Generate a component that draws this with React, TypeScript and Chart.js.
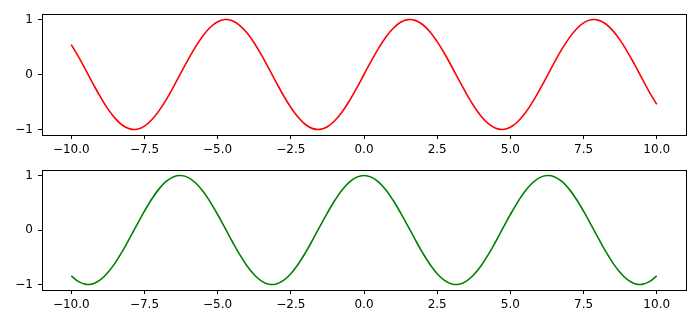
import React, { useEffect, useRef } from "react";
import { Chart, registerables } from "chart.js";
Chart.register(...registerables);

const xValues = [
  -10, -9.75, -9.5, -9.25, -9, -8.75, -8.5, -8.25, -8, -7.75, -7.5, -7.25, -7, -6.75, -6.5, -6.25,
  -6, -5.75, -5.5, -5.25, -5, -4.75, -4.5, -4.25, -4, -3.75, -3.5, -3.25, -3, -2.75, -2.5, -2.25,
  -2, -1.75, -1.5, -1.25, -1, -0.75, -0.5, -0.25, 0, 0.25, 0.5, 0.75, 1, 1.25, 1.5, 1.75,
  2, 2.25, 2.5, 2.75, 3, 3.25, 3.5, 3.75, 4, 4.25, 4.5, 4.75, 5, 5.25, 5.5, 5.75,
  6, 6.25, 6.5, 6.75, 7, 7.25, 7.5, 7.75, 8, 8.25, 8.5, 8.75, 9, 9.25, 9.5, 9.75, 10,
];

const redSeries = [
  0.544, 0.32, 0.075, -0.174, -0.412, -0.625, -0.798, -0.923, -0.989, -0.995, -0.938, -0.823, -0.657, -0.451, -0.215, 0.033,
  0.279, 0.508, 0.706, 0.859, 0.959, 0.999, 0.978, 0.895, 0.757, 0.572, 0.351, 0.108, -0.141, -0.382, -0.598, -0.778,
  -0.909, -0.984, -0.997, -0.949, -0.841, -0.682, -0.479, -0.247, 0, 0.247, 0.479, 0.682, 0.841, 0.949, 0.997, 0.984,
  0.909, 0.778, 0.598, 0.382, 0.141, -0.108, -0.351, -0.572, -0.757, -0.895, -0.978, -0.999, -0.959, -0.859, -0.706, -0.508,
  -0.279, -0.033, 0.215, 0.451, 0.657, 0.823, 0.938, 0.995, 0.989, 0.923, 0.798, 0.625, 0.412, 0.174, -0.075, -0.32, -0.544,
];

const greenSeries = [
  -0.839, -0.947, -0.997, -0.985, -0.911, -0.78, -0.602, -0.386, -0.146, 0.103, 0.347, 0.568, 0.754, 0.894, 0.977, 0.999,
  0.96, 0.861, 0.709, 0.512, 0.284, 0.038, -0.211, -0.446, -0.654, -0.82, -0.936, -0.994, -0.99, -0.924, -0.801, -0.628,
  -0.416, -0.178, 0.071, 0.315, 0.54, 0.732, 0.878, 0.969, 1, 0.969, 0.878, 0.732, 0.54, 0.315, 0.071, -0.178,
  -0.416, -0.628, -0.801, -0.924, -0.99, -0.994, -0.936, -0.82, -0.654, -0.446, -0.211, 0.038, 0.284, 0.512, 0.709, 0.861,
  0.96, 0.999, 0.977, 0.894, 0.754, 0.568, 0.347, 0.103, -0.146, -0.386, -0.602, -0.78, -0.911, -0.985, -0.997, -0.947, -0.839,
];

const xTicks = [-10, -7.5, -5, -2.5, 0, 2.5, 5, 7.5, 10];
const xTickLabels = ["\u221210.0", "\u22127.5", "\u22125.0", "\u22122.5", "0.0", "2.5", "5.0", "7.5", "10.0"];
const yTicks = [-1, 0, 1];
const yTickLabels = ["\u22121", "0", "1"];

const FONT = { family: "'DejaVu Sans', sans-serif", size: 12 };

const boxPlugin = {
  id: "box",
  afterDraw(chart: any) {
    const { ctx, chartArea } = chart;
    ctx.save();
    ctx.strokeStyle = "#000";
    ctx.lineWidth = 1;
    ctx.strokeRect(
      Math.round(chartArea.left) + 0.5,
      Math.round(chartArea.top) + 0.5,
      Math.round(chartArea.right - chartArea.left),
      Math.round(chartArea.bottom - chartArea.top)
    );
    ctx.restore();
  },
};

function makeConfig(values: number[], color: string, padTop: number, xAxisHeight: number): any {
  return {
    type: "line",
    data: {
      datasets: [
        {
          data: xValues.map((x, i) => ({ x, y: values[i] })),
          borderColor: color,
          borderWidth: 1.6,
          pointRadius: 0,
          tension: 0.4,
          fill: false,
        },
      ],
    },
    options: {
      animation: false,
      responsive: false,
      maintainAspectRatio: false,
      layout: { padding: { top: padTop, right: 14, left: 0, bottom: 0 } },
      plugins: { legend: { display: false }, tooltip: { enabled: false } },
      scales: {
        x: {
          type: "linear",
          min: -11,
          max: 11,
          afterBuildTicks: (axis: any) => {
            axis.ticks = xTicks.map((v) => ({ value: v }));
          },
          afterFit: (axis: any) => {
            axis.height = xAxisHeight;
            axis.paddingLeft = 0;
            axis.paddingRight = 0;
          },
          ticks: {
            callback: (v: number) => {
              const i = xTicks.indexOf(v);
              return i >= 0 ? xTickLabels[i] : "";
            },
            font: FONT,
            color: "#000",
            padding: 4,
            maxRotation: 0,
            autoSkip: false,
          },
          grid: { drawOnChartArea: false, drawTicks: true, tickLength: 4, color: "#000" },
          border: { display: true, color: "#000" },
        },
        y: {
          type: "linear",
          min: -1.1,
          max: 1.1,
          afterBuildTicks: (axis: any) => {
            axis.ticks = yTicks.map((v) => ({ value: v }));
          },
          afterFit: (axis: any) => {
            axis.width = 42;
            axis.paddingTop = 0;
            axis.paddingBottom = 0;
          },
          ticks: {
            callback: (v: number) => {
              const i = yTicks.indexOf(v);
              return i >= 0 ? yTickLabels[i] : "";
            },
            font: FONT,
            color: "#000",
            padding: 5,
          },
          grid: { drawOnChartArea: false, drawTicks: true, tickLength: 4, color: "#000" },
          border: { display: true, color: "#000" },
        },
      },
    },
    plugins: [boxPlugin],
  };
}

export default function App() {
  const topRef = useRef<HTMLCanvasElement>(null);
  const botRef = useRef<HTMLCanvasElement>(null);

  useEffect(() => {
    document.body.style.margin = "0";
    const c1 = new Chart(topRef.current as HTMLCanvasElement, makeConfig(redSeries, "#ff0000", 14, 28));
    const c2 = new Chart(botRef.current as HTMLCanvasElement, makeConfig(greenSeries, "#008000", 7, 37));
    return () => {
      c1.destroy();
      c2.destroy();
    };
  }, []);

  return (
    <div style={{ position: "relative", width: 700, height: 327, background: "#fff" }}>
      <canvas ref={topRef} width={700} height={163} style={{ position: "absolute", left: 0, top: 0, width: 700, height: 163 }} />
      <canvas ref={botRef} width={700} height={164} style={{ position: "absolute", left: 0, top: 163, width: 700, height: 164 }} />
    </div>
  );
}
